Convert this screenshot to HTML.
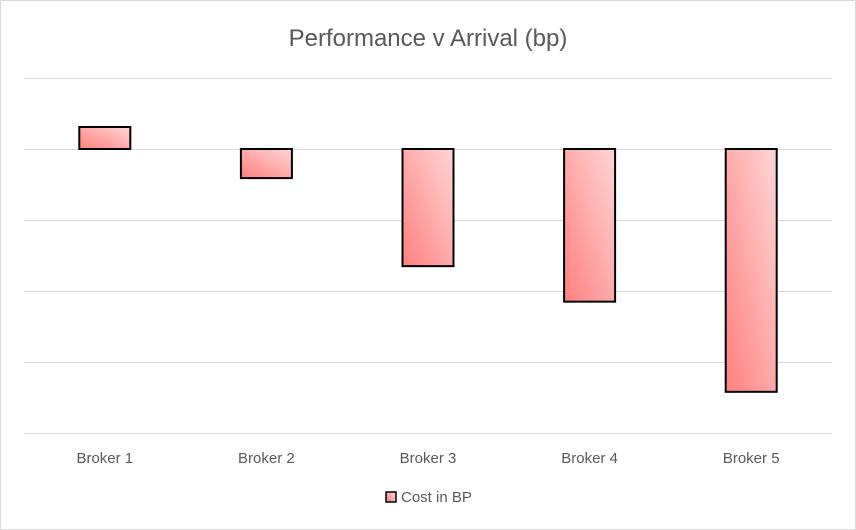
<!DOCTYPE html>
<html><head><meta charset="utf-8"><style>
body{margin:0;background:#fff}
svg{display:block;font-family:"Liberation Sans",sans-serif}
</style></head><body>
<svg id="chart" width="856" height="530">
<defs>
<linearGradient id="g" x1="1" y1="0" x2="0" y2="1">
<stop offset="0" stop-color="#ffd6d6"/><stop offset="1" stop-color="#ff7f7f"/>
</linearGradient>
</defs>
<rect x="0.5" y="0.5" width="855" height="529" fill="#fff" stroke="#d9d9d9"/>
<text x="428" y="46" text-anchor="middle" font-size="24" fill="#595959">Performance v Arrival (bp)</text>
<g id="grid"></g><g id="bars"></g><g id="xlabels"></g>
<g>
<rect x="386" y="492" width="10" height="10" fill="url(#g)" stroke="#000" stroke-width="1.5"/>
<text x="401" y="502" font-size="15" fill="#595959">Cost in BP</text>
</g>
</svg>
<script>
const categories = ["Broker 1","Broker 2","Broker 3","Broker 4","Broker 5"];
const values = [0.31,-0.41,-1.65,-2.15,-3.42];
const gridTicks = [1,0,-1,-2,-3,-4];
const NS="http://www.w3.org/2000/svg";
const plotL=24, plotR=832, yMax=1, yMin=-4, yTop=78, yBot=433;
const y=v=>yTop+(yMax-v)/(yMax-yMin)*(yBot-yTop);
const band=(plotR-plotL)/categories.length;
const x=i=>plotL+band*(i+0.5);
const grid=document.getElementById('grid'), bars=document.getElementById('bars'), xl=document.getElementById('xlabels');
gridTicks.forEach(t=>{
  const l=document.createElementNS(NS,'line');
  l.setAttribute('x1',plotL);l.setAttribute('x2',plotR);
  l.setAttribute('y1',Math.round(y(t))+0.5);l.setAttribute('y2',Math.round(y(t))+0.5);
  l.setAttribute('stroke','#d9d9d9');
  
  
  grid.appendChild(l);
});
categories.forEach((c,i)=>{
  const v=values[i];
  const r=document.createElementNS(NS,'rect');
  const y0=y(0), y1=y(v);
  r.setAttribute('x',x(i)-25.5);r.setAttribute('width',51);
  r.setAttribute('y',Math.min(y0,y1));r.setAttribute('height',Math.abs(y1-y0));
  r.setAttribute('fill','url(#g)');r.setAttribute('stroke','#000');r.setAttribute('stroke-width','2');
  
  
  bars.appendChild(r);
  const t=document.createElementNS(NS,'text');
  t.setAttribute('x',x(i));t.setAttribute('y',463);
  t.setAttribute('text-anchor','middle');t.setAttribute('font-size','15');t.setAttribute('fill','#595959');
  t.textContent=c;
  
  
  xl.appendChild(t);
});
</script>
</body></html>
